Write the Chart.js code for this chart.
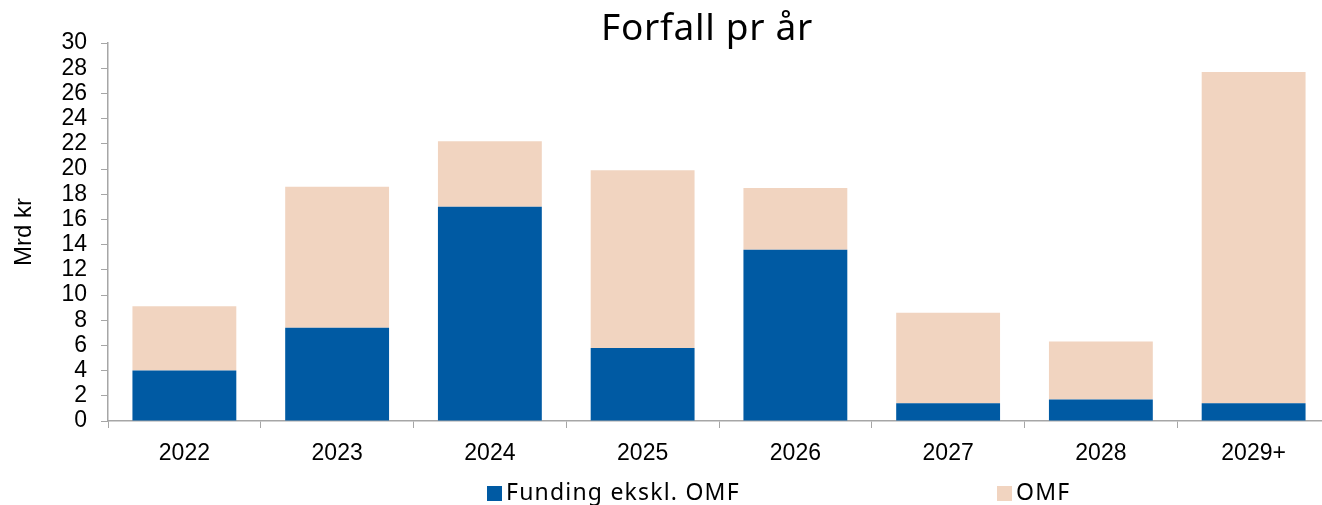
<!DOCTYPE html>
<html>
<head>
<meta charset="utf-8">
<script src="https://cdn.jsdelivr.net/npm/chart.js@4/dist/chart.umd.min.js"></script>
<style>
  html, body { margin: 0; padding: 0; background: #fff; overflow: hidden; }
  #wrap { position: relative; width: 1332px; height: 505px; }
  #legend { position: absolute; top: 478px; left: 0; width: 1332px; height: 27px;
    font-family: "Noto Sans", sans-serif; font-size: 23px; letter-spacing: 1.2px; color: #000; }
  .item { position: absolute; top: 0; white-space: nowrap; line-height: 27px; }
  .box { display: inline-block; width: 15px; height: 15px; margin-right: 4px; vertical-align: -1px; }
</style>
</head>
<body>
<div id="wrap">
  <canvas id="forfallChart"></canvas>
  <div id="legend"></div>
</div>
<script>
const years = ["2022", "2023", "2024", "2025", "2026", "2027", "2028", "2029+"];
const fundingEksklOmf = [4.0, 7.4, 17.0, 5.8, 13.6, 1.4, 1.7, 1.4];
const omf = [5.1, 11.2, 5.2, 14.1, 4.9, 7.2, 4.6, 26.3];
const seriesNames = ["Funding ekskl. OMF", "OMF"];
const seriesColors = ["#005AA3", "#F1D4C0"];
const legendLeft = [487, 997];

// title drawn centred over the bars, like the original
const titlePlugin = {
  id: "forfallTitle",
  afterDraw(chart) {
    const c = chart.ctx;
    c.save();
    c.font = '37px "Noto Sans"';
    c.letterSpacing = "0.7px";
    c.fillStyle = "#000";
    c.textAlign = "center";
    c.textBaseline = "alphabetic";
    c.fillText("Forfall pr år", 707, 40);
    c.restore();
  }
};

const ctx = document.getElementById("forfallChart").getContext("2d");
const chart = new Chart(ctx, {
  type: "bar",
  data: {
    labels: years,
    datasets: [
      { label: seriesNames[0], data: fundingEksklOmf, backgroundColor: seriesColors[0] },
      { label: seriesNames[1], data: omf, backgroundColor: seriesColors[1] }
    ]
  },
  options: {
    responsive: true,
    maintainAspectRatio: false,
    animation: false,
    layout: { padding: { top: 43, right: 2, left: 0, bottom: 0 } },
    datasets: { bar: { barPercentage: 0.68, categoryPercentage: 1.0, borderWidth: 0 } },
    scales: {
      x: {
        stacked: true,
        afterFit: s => { s.height = 84; },
        grid: { display: true, drawOnChartArea: false, drawTicks: true, tickLength: 7, color: "#a6a6a6", offset: true },
        border: { display: true, color: "#a6a6a6", width: 1.5 },
        ticks: { color: "#000", padding: 12, font: { family: "Liberation Sans", size: 23 } }
      },
      y: {
        stacked: true,
        min: 0,
        max: 30,
        afterFit: s => { s.width = 108; },
        ticks: { stepSize: 2, autoSkip: false, color: "#000", padding: 14, font: { family: "Liberation Sans", size: 23 } },
        grid: { display: true, drawOnChartArea: false, drawTicks: true, tickLength: 7, color: "#a6a6a6" },
        border: { display: true, color: "#a6a6a6", width: 1.5 },
        title: { display: true, text: "Mrd kr", color: "#000", padding: { top: 10, bottom: 0 },
          font: { family: "Liberation Sans", size: 24 } }
      }
    },
    plugins: {
      legend: { display: false },
      title: { display: false },
      tooltip: { enabled: false }
    }
  },
  plugins: [titlePlugin]
});

// legend placed where the original has it
const legendEl = document.getElementById("legend");
seriesNames.forEach((name, i) => {
  const item = document.createElement("div");
  item.className = "item";
  item.style.left = legendLeft[i] + "px";
  item.innerHTML = '<span class="box" style="background:' + seriesColors[i] + '"></span>' + name;
  legendEl.appendChild(item);
});
</script>
</body>
</html>
